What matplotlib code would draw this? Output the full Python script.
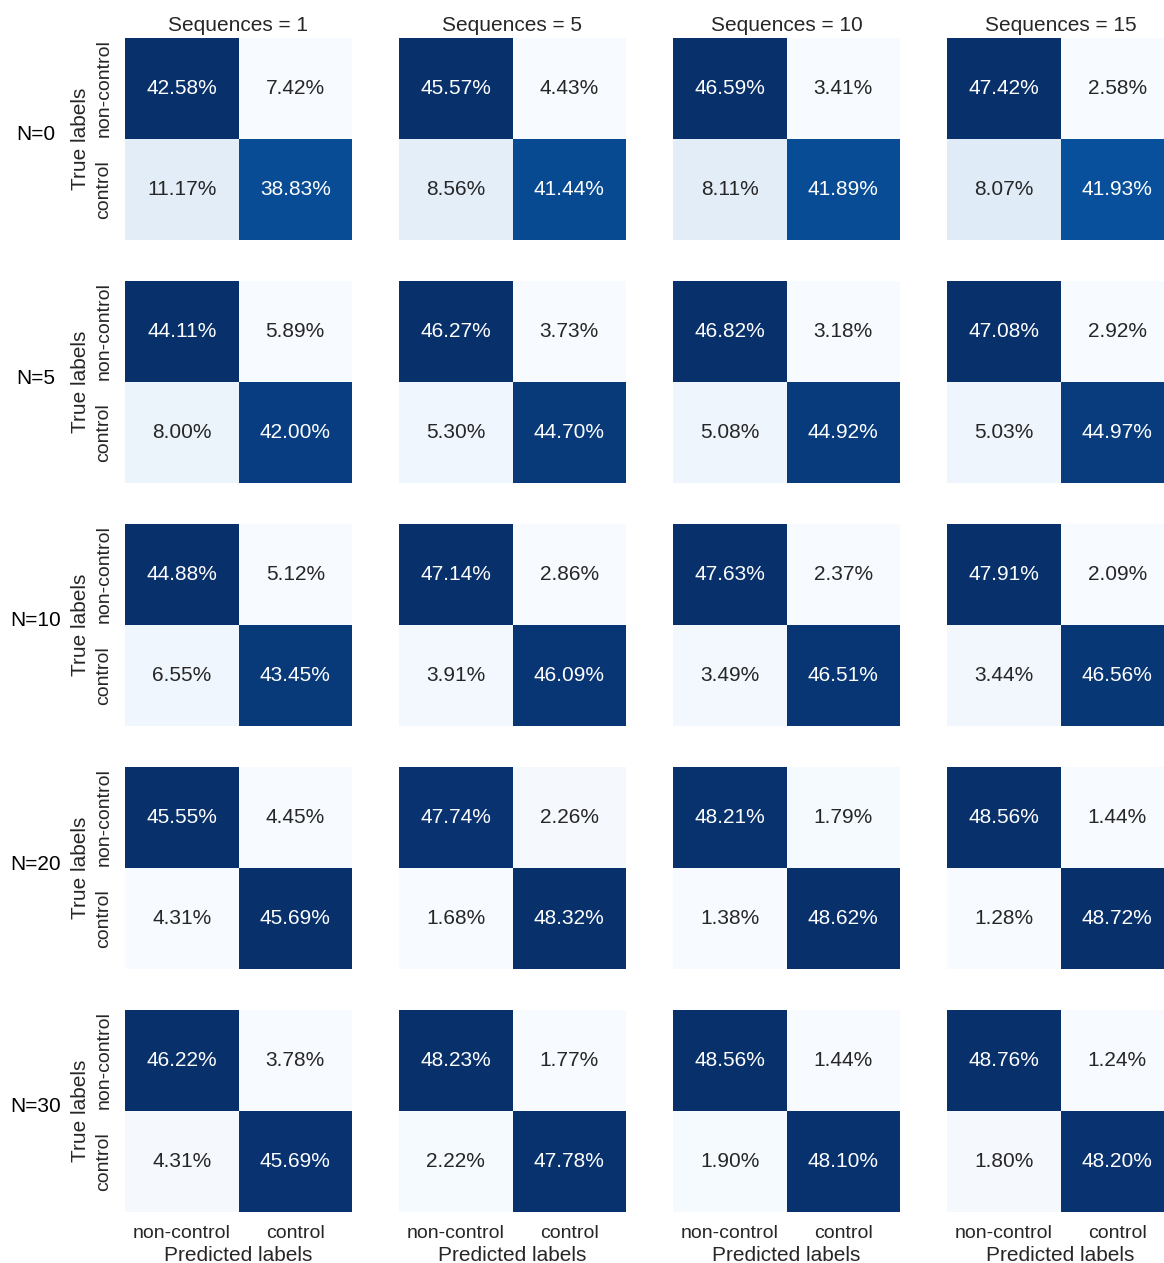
import numpy as np
import matplotlib
matplotlib.use("Agg")
import matplotlib.pyplot as plt
import seaborn as sns

sns.set_theme(style="white")
plt.rcParams['font.family'] = ['Liberation Sans', 'DejaVu Sans']

# =========================
# DATA (percent of all samples)
# rows: N, columns: sequences
# =========================
n_values = [0, 5, 10, 20, 30]
sequences = [1, 5, 10, 15]
class_names = ["non-control", "control"]

# true non-control -> predicted non-control
nc_nc = np.array([
    [42.58, 45.57, 46.59, 47.42],
    [44.11, 46.27, 46.82, 47.08],
    [44.88, 47.14, 47.63, 47.91],
    [45.55, 47.74, 48.21, 48.56],
    [46.22, 48.23, 48.56, 48.76],
])
# true non-control -> predicted control
nc_c = np.array([
    [7.42, 4.43, 3.41, 2.58],
    [5.89, 3.73, 3.18, 2.92],
    [5.12, 2.86, 2.37, 2.09],
    [4.45, 2.26, 1.79, 1.44],
    [3.78, 1.77, 1.44, 1.24],
])
# true control -> predicted non-control
c_nc = np.array([
    [11.17, 8.56, 8.11, 8.07],
    [8.00, 5.30, 5.08, 5.03],
    [6.55, 3.91, 3.49, 3.44],
    [4.31, 1.68, 1.38, 1.28],
    [4.31, 2.22, 1.90, 1.80],
])
# true control -> predicted control
c_c = np.array([
    [38.83, 41.44, 41.89, 41.93],
    [42.00, 44.70, 44.92, 44.97],
    [43.45, 46.09, 46.51, 46.56],
    [45.69, 48.32, 48.62, 48.72],
    [45.69, 47.78, 48.10, 48.20],
])

# =========================
# LAYOUT (pixels)
# =========================
W, H = 1164, 1263
col_left = [125, 399, 673, 947]
row_top = [38, 281, 524, 767, 1010]
ax_w, ax_h = 227, 202

fig = plt.figure(figsize=(W / 100, H / 100), dpi=100)

for i, n in enumerate(n_values):
    for j, s in enumerate(sequences):
        rect = [col_left[j] / W, (H - row_top[i] - ax_h) / H, ax_w / W, ax_h / H]
        ax = fig.add_axes(rect)
        cm = np.array([[nc_nc[i, j], nc_c[i, j]],
                       [c_nc[i, j], c_c[i, j]]])
        labels = np.array([[f"{v:.2f}%" for v in row] for row in cm])
        sns.heatmap(cm, annot=labels, fmt="", cmap="Blues", cbar=False,
                    ax=ax, annot_kws={"fontsize": 15})
        ax.tick_params(length=0, pad=9)

        if i == 0:
            ax.set_title(f"Sequences = {s}", fontsize=15, pad=5, color="#262626")
        if j == 0:
            ax.set_yticklabels(class_names, rotation=90, va="center", fontsize=14)
            ax.set_ylabel("True labels", fontsize=15, labelpad=4)
            # row label for N, left of the heatmap row
            fig.text(36 / W, 1 - (row_top[i] + ax_h / 2 - 4) / H, f"N={n}",
                     ha="center", va="center", fontsize=15, color="black")
        else:
            ax.set_yticks([])
        if i == len(n_values) - 1:
            ax.set_xticklabels(class_names, rotation=0, fontsize=14)
            ax.set_xlabel("Predicted labels", fontsize=15, labelpad=3)
        else:
            ax.set_xticks([])

fig.savefig("out.png", dpi=100)
